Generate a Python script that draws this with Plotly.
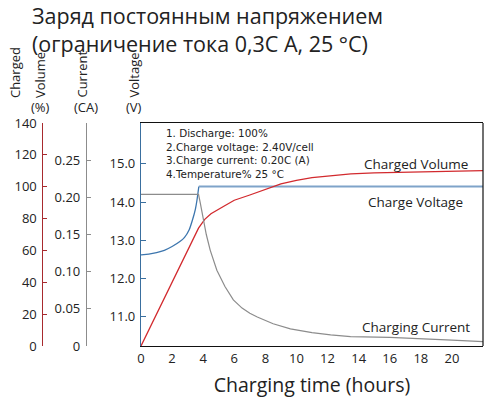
import plotly.graph_objects as go

# ---- data ----
volt_t = [0, 0.5, 1.0, 1.5, 2.0, 2.5, 2.8, 3.1, 3.3, 3.5, 3.6, 3.72]
volt_v = [12.62, 12.64, 12.68, 12.74, 12.84, 12.97, 13.08, 13.28, 13.52, 13.82, 14.05, 14.41]
volt_flat_t = [3.72, 22]
volt_flat_v = [14.41, 14.41]

vol_t = [0, 3.7, 4.1, 4.5, 5.3, 6.0, 7.0, 8.0, 9.0, 10.0, 11.0, 12.0, 13.5, 15.0, 17.0, 19.0, 22.0]
vol_v = [0, 74, 79.5, 83, 87.6, 91.5, 94.8, 98.5, 101.8, 104.0, 105.7, 106.6, 108.0, 108.7, 109.2, 109.6, 110.1]

cur_t = [0, 3.7, 3.8, 3.9, 4.0, 4.2, 4.45, 4.88, 5.4, 5.94, 6.5, 7.0, 7.48, 8.5, 9.61, 11.0, 12.2, 13.48, 16.0, 18.0, 20.0, 22.0]
cur_v = [0.204, 0.204, 0.194, 0.183, 0.172, 0.150, 0.129, 0.102, 0.080, 0.062, 0.051, 0.044, 0.039, 0.030, 0.023, 0.018, 0.015, 0.0127, 0.0115, 0.0102, 0.008, 0.0058]

x_ticks = [0, 2, 4, 6, 8, 10, 12, 14, 16, 18, 20]
volt_ticks = [11, 12, 13, 14, 15]
volt_ticktext = ["11.0", "12.0", "13.0", "14.0", "15.0"]
vol_ticks = [0, 20, 40, 60, 80, 100, 120, 140]
cur_ticks = [0, 0.05, 0.10, 0.15, 0.20, 0.25]
cur_ticktext = ["0", "0.05", "0.10", "0.15", "0.20", "0.25"]

title_lines = ["Заряд постоянным напряжением", "(ограничение тока 0,3С А, 25 °С)"]
notes = ["1. Discharge: 100%", "2.Charge voltage: 2.40V/cell",
         "3.Charge current: 0.20C (A)", "4.Temperature% 25 °C"]

FONT = "Open Sans"
TXT = "#222222"
RED = "#d22a2e"
RED_AX = "#a82a2e"
BLUE = "#3d76ae"
BLUE_FLAT = "#7fa3c9"
BLUE_AX = "#3a6f9f"
GRAY = "#8c8c8c"

W, H = 494, 400
L, R, T, B = 0, 11, 123, 53.5
PLOT_L = 141
PW = W - L - R
PH = H - T - B


def xp(px):
    return (px - L) / PW


def yp(py):
    return (H - B - py) / PH


fig = go.Figure()
fig.add_trace(go.Scatter(x=vol_t, y=vol_v, yaxis="y2", mode="lines",
                         line=dict(color=RED, width=1.3), hoverinfo="skip"))
fig.add_trace(go.Scatter(x=cur_t, y=cur_v, yaxis="y3", mode="lines",
                         line=dict(color=GRAY, width=1.2), hoverinfo="skip"))
fig.add_trace(go.Scatter(x=volt_t, y=volt_v, yaxis="y", mode="lines",
                         line=dict(color=BLUE, width=1.3, shape="spline", smoothing=0.5),
                         hoverinfo="skip"))
fig.add_trace(go.Scatter(x=volt_flat_t, y=volt_flat_v, yaxis="y", mode="lines",
                         line=dict(color=BLUE_FLAT, width=2.2), hoverinfo="skip"))

tickfont = dict(family=FONT, size=13, color=TXT)

fig.update_layout(
    width=W, height=H,
    margin=dict(l=L, r=R, t=T, b=B, autoexpand=False),
    paper_bgcolor="white", plot_bgcolor="white",
    showlegend=False,
    font=dict(family=FONT, color=TXT),
    xaxis=dict(domain=[xp(PLOT_L), 1], range=[0, 22], tickvals=x_ticks, ticks="",
               showgrid=False, zeroline=False, showline=True, linecolor="#111111",
               linewidth=1.2, mirror=True, tickfont=tickfont,
               title=dict(text="Charging time (hours)", font=dict(family=FONT, size=19.5, color=TXT),
                          standoff=12)),
    yaxis=dict(range=[10.24, 16.07], tickvals=volt_ticks, ticktext=volt_ticktext,
               ticks="inside", ticklen=5, tickcolor=BLUE_AX, showgrid=False, zeroline=False,
               showline=True, linecolor=BLUE_AX, linewidth=1.2, tickfont=tickfont,
               ticklabelstandoff=2),
    yaxis2=dict(range=[0, 140], tickvals=vol_ticks, overlaying="y", anchor="free",
                position=xp(41.5), side="left", ticks="inside", ticklen=4, tickcolor=RED_AX,
                showgrid=False, zeroline=False, showline=True, linecolor=RED_AX,
                linewidth=1.2, tickfont=tickfont, ticklabelstandoff=2),
    yaxis3=dict(range=[0, 0.30], tickvals=cur_ticks, ticktext=cur_ticktext, overlaying="y",
                anchor="free", position=xp(86), side="left", ticks="inside", ticklen=4,
                tickcolor=GRAY, showgrid=False, zeroline=False, showline=True,
                linecolor=GRAY, linewidth=1.2, tickfont=tickfont, ticklabelstandoff=3),
)

# right border of frame
fig.add_shape(type="line", xref="paper", yref="paper", x0=1, x1=1, y0=0, y1=1,
              line=dict(color="#111111", width=1.2))

ann = []
# title (one block, two lines)
ann.append(dict(text="<br>".join(title_lines), x=xp(30), y=yp(29.5),
                xanchor="left", yanchor="middle", align="left",
                font=dict(size=21.5, family=FONT)))
# rotated axis titles
for txt, cx in [("Charged", 14.5), ("Volume", 40), ("Current", 82), ("Voltage", 134)]:
    ann.append(dict(text=txt, x=xp(cx), y=yp(100), xanchor="center", yanchor="bottom",
                    textangle=-90, font=dict(size=13, family=FONT)))
for txt, cx in [("(%)", 40), ("(CA)", 86), ("(V)", 134)]:
    ann.append(dict(text=txt, x=xp(cx), y=yp(107), xanchor="center", yanchor="middle",
                    font=dict(size=13, family=FONT)))
# notes (one block)
ann.append(dict(text="<br>".join(notes), x=xp(164), y=yp(125.5), xanchor="left",
                yanchor="top", align="left",
                font=dict(size=10.4, family="DejaVu Sans")))
# series labels
ann.append(dict(text="Charged Volume", x=xp(416), y=yp(164), xanchor="center",
                yanchor="middle", font=dict(size=13.5, family=FONT)))
ann.append(dict(text="Charge Voltage", x=xp(415), y=yp(202), xanchor="center",
                yanchor="middle", font=dict(size=13.5, family=FONT)))
ann.append(dict(text="Charging Current", x=xp(416), y=yp(327), xanchor="center",
                yanchor="middle", font=dict(size=13.5, family=FONT)))

for a in ann:
    a.update(xref="paper", yref="paper", showarrow=False)
    a["font"]["color"] = TXT
fig.update_layout(annotations=ann)

fig.write_html("out.html", config={"displayModeBar": False},
               post_script="document.body.style.margin='0px';")
